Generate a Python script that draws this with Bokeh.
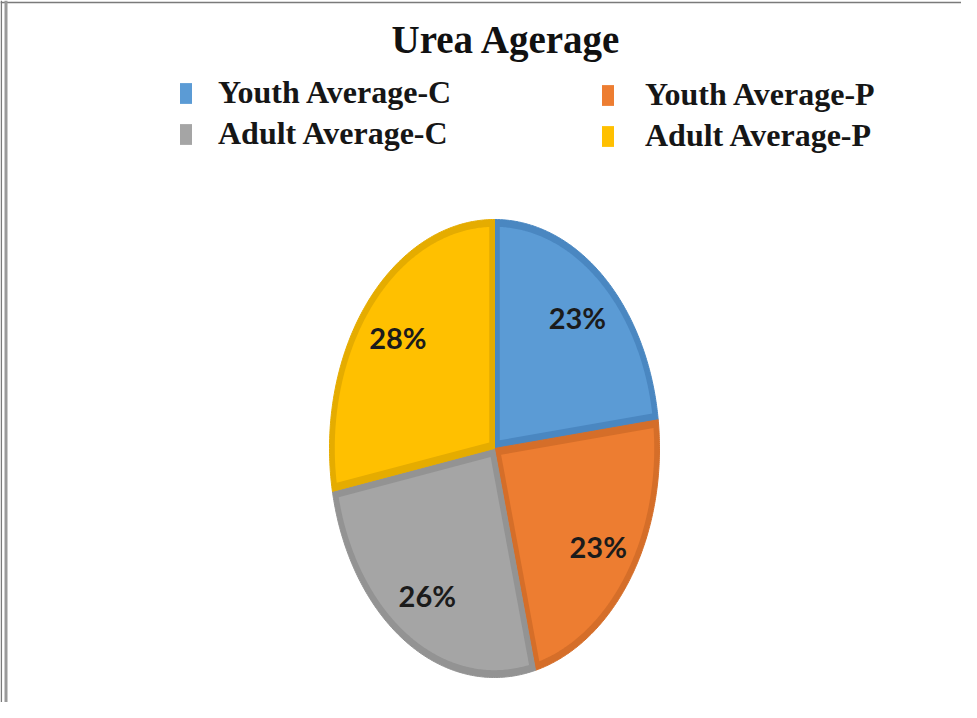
import numpy as np
from bokeh.plotting import figure
from bokeh.models import ColumnDataSource, Label, Legend, LegendItem, Span
from bokeh.embed import file_html
from bokeh.resources import INLINE
from bokeh.core.properties import value

# ---------------- data ----------------
chart_title = "Urea Agerage"
categories = ["Youth Average-C", "Youth Average-P", "Adult Average-C", "Adult Average-P"]
percent = [23, 23, 26, 28]
fill_colors = ["#5B9BD5", "#ED7D31", "#A5A5A5", "#FFC000"]
edge_colors = ["#4A87C1", "#D56E29", "#939393", "#E5AC00"]

# ---------------- layout ----------------
W, H = 961, 702
cx, cy = 494, 448          # canvas px of pie centre (from top-left)
rx, ry = 165, 229          # px per unit in x and y -> elliptical pie
x0, x1 = -cx / rx, (W - cx) / rx
y0, y1 = -(H - cy) / ry, cy / ry

p = figure(width=W, height=H, x_range=(x0, x1), y_range=(y0, y1),
           x_axis_type=None, y_axis_type=None, toolbar_location=None,
           output_backend="svg", min_border=0, match_aspect=False)
p.grid.visible = False
p.outline_line_color = None
p.background_fill_color = "white"
p.border_fill_color = "white"

# ---------------- wedge geometry from values ----------------
total = float(sum(percent))
start = np.pi / 2
out_xs, out_ys, in_xs, in_ys, lx, ly, ltxt = [], [], [], [], [], [], []
inset = 0.032
for v in percent:
    span = v / total * 2 * np.pi
    a0, a1 = start, start - span
    t = np.linspace(a0, a1, 160)
    out_xs.append([0.0] + list(np.cos(t)))
    out_ys.append([0.0] + list(np.sin(t)))
    h = span / 2
    m = a0 - h
    d = inset / np.sin(h)
    r2 = 1 - inset
    dl = np.arcsin(inset / r2)
    t2 = np.linspace(a0 - dl, a1 + dl, 160)
    in_xs.append([d * np.cos(m)] + list(r2 * np.cos(t2)))
    in_ys.append([d * np.sin(m)] + list(r2 * np.sin(t2)))
    lx.append(0.76 * np.cos(m))
    ly.append(0.76 * np.sin(m))
    ltxt.append(f"{v}%")
    start = a1

outer_src = ColumnDataSource(dict(xs=out_xs, ys=out_ys, color=edge_colors))
inner_src = ColumnDataSource(dict(xs=in_xs, ys=in_ys, color=fill_colors, cat=categories))
label_src = ColumnDataSource(dict(x=lx, y=ly, text=ltxt))

p.patches("xs", "ys", source=outer_src, fill_color="color", line_color="color", line_width=1)
inner = p.patches("xs", "ys", source=inner_src, fill_color="color", line_color=None)

p.text("x", "y", text="text", source=label_src, text_font=value("Lato"),
       text_font_style="bold", text_font_size="29px", text_color="#1b1b1b",
       text_align="center", text_baseline="middle")

# ---------------- title ----------------
p.add_layout(Label(x=506, y=H - 39, x_units="screen", y_units="screen", text=chart_title,
                   text_font="Liberation Serif", text_font_style="bold",
                   text_font_size="39px", text_color="#111111",
                   text_align="center", text_baseline="middle"))

# ---------------- legend (two columns) ----------------
def make_legend(idx, loc, standoff):
    return Legend(items=[LegendItem(label=categories[i], renderers=[inner], index=i) for i in idx],
                  location=loc, orientation="vertical",
                  border_line_color=None, background_fill_alpha=0,
                  padding=0, margin=0, spacing=4,
                  glyph_width=15, glyph_height=26, label_standoff=standoff,
                  label_text_font="Liberation Serif", label_text_font_style="bold",
                  label_text_font_size="32px", label_text_color="#161616")

p.add_layout(make_legend([0, 2], (178, 550), 25))
p.add_layout(make_legend([1, 3], (600, 548), 30))

# ---------------- frame lines (top + double left) ----------------
p.add_layout(Span(location=y1 - 2 / ry, dimension="width", line_color="#7a7a7a", line_width=1.5))
p.add_layout(Span(location=x0 + 0.8 / rx, dimension="height", line_color="#7a7a7a", line_width=1.5))
p.add_layout(Span(location=x0 + 5.5 / rx, dimension="height", line_color="#9a9a9a", line_width=3))

open("out.html", "w").write(file_html(p, INLINE))
